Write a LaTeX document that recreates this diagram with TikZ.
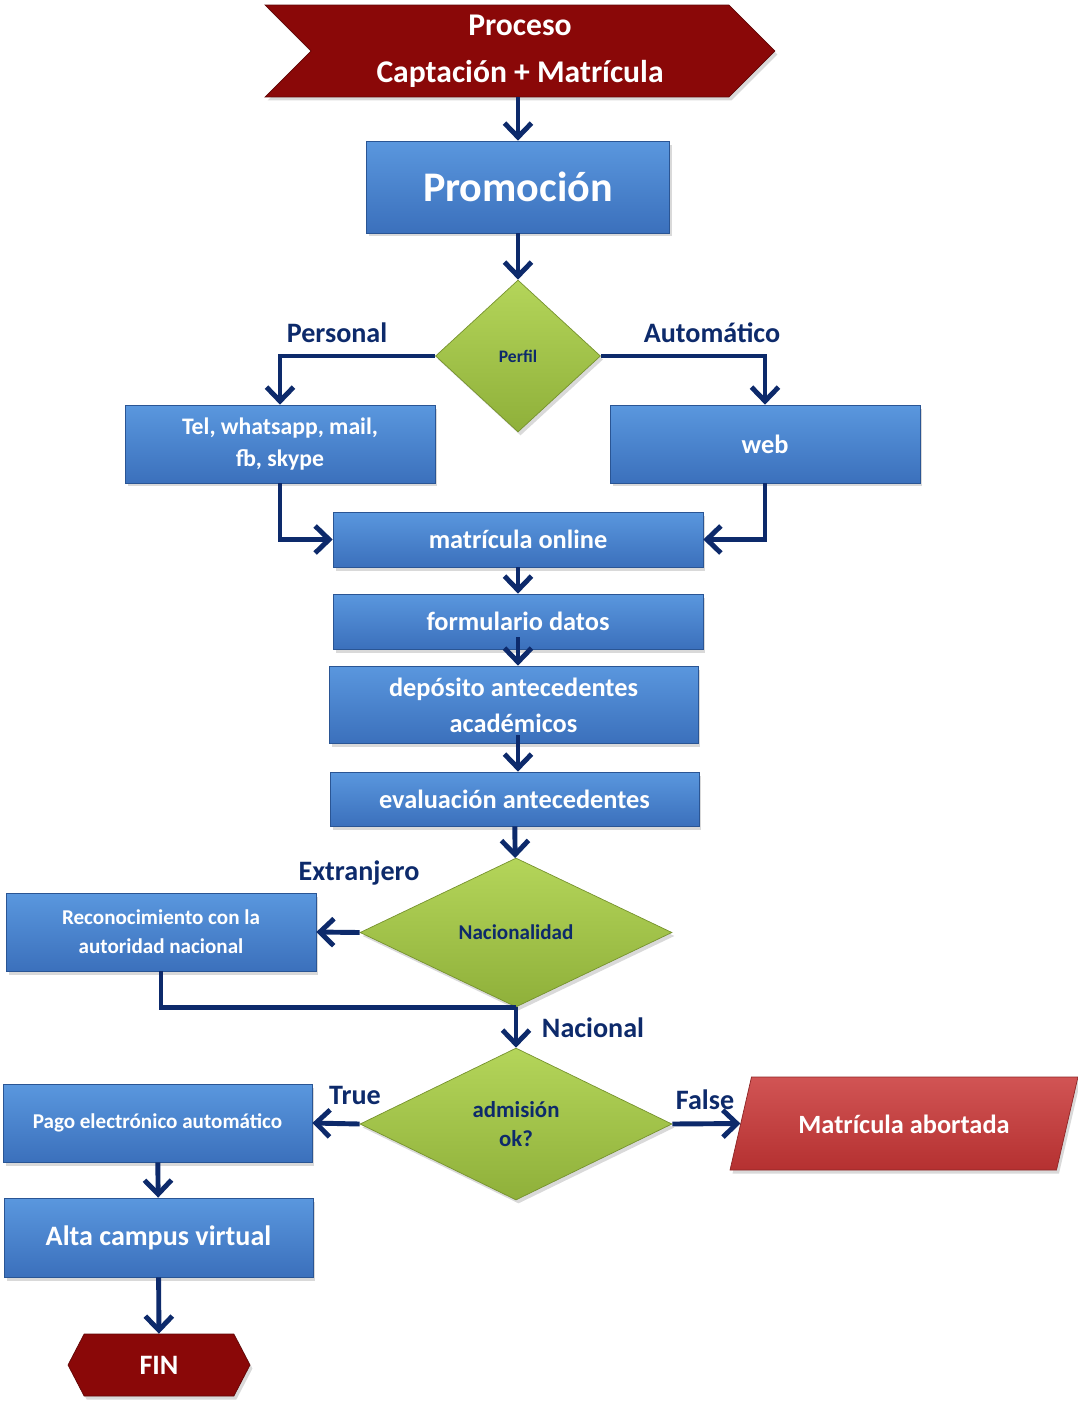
\documentclass[tikz,border=0pt]{standalone}
\usepackage{fontspec}
\setmainfont{Carlito}
\usetikzlibrary{shapes,arrows.meta,positioning,calc,shadows}

\definecolor{navy}{HTML}{0D2A6B}
\definecolor{boxblue}{HTML}{3B70BC}
\definecolor{boxtop}{HTML}{5A97DE}
\definecolor{boxedge}{HTML}{2A5594}
\definecolor{leaf}{HTML}{8FB03A}
\definecolor{leaftop}{HTML}{B4D55A}
\definecolor{leafedge}{HTML}{76922E}
\definecolor{wine}{HTML}{8A0808}
\definecolor{brick}{HTML}{C93636}

\begin{document}
\begin{tikzpicture}[x=0.02cm, y=-0.02cm, font=\bfseries,
    proc/.style={rectangle, draw=boxedge, top color=boxtop, bottom color=boxblue,
        text=white, align=center, inner sep=2pt,
        drop shadow={shadow xshift=0.5mm, shadow yshift=-0.7mm, opacity=0.3}},
    dec/.style={diamond, aspect=1, inner sep=0pt, draw=leafedge, top color=leaftop,
        bottom color=leaf, text=navy, align=center,
        drop shadow={shadow xshift=0.5mm, shadow yshift=-0.7mm, opacity=0.3}},
    flow/.style={draw=navy, line width=2.8pt, -{Straight Barb[length=2.8mm,width=5.4mm]}},
    tag/.style={text=navy, font=\bfseries\fontsize{16}{18}\selectfont}]

    \useasboundingbox (0,0) rectangle (1078,1403);

    % start
    \node [signal, signal from=west, signal to=east, fill=wine, draw=wine!70!black,
        minimum width=10.2cm, minimum height=1.84cm, text=white, align=center,
        font=\bfseries\fontsize{18}{27}\selectfont,
        drop shadow={shadow xshift=0.5mm, shadow yshift=-0.7mm, opacity=0.3}]
        (start) at (520,51) {Proceso\\Captación + Matrícula};
    \node [proc, minimum width=6.06cm, minimum height=1.84cm,
        font=\bfseries\fontsize{24}{28}\selectfont] (promo) at (518,187) {Promoción};

    % perfil
    \node [dec, minimum width=3.3cm, minimum height=3.04cm,
        font=\bfseries\fontsize{10}{12}\selectfont] (perfil) at (518,356) {Perfil};
    \node [proc, minimum width=6.2cm, minimum height=1.56cm,
        font=\bfseries\fontsize{13.5}{18}\selectfont] (tel) at (280,444) {Tel, whatsapp, mail,\\fb, skype};
    \node [proc, minimum width=6.2cm, minimum height=1.56cm,
        font=\bfseries\fontsize{15}{18}\selectfont] (web) at (765,444) {web};
    \node [tag] (personal) at (337,333) {Personal};
    \node [tag] (auto) at (712,333) {Automático};

    % pasos
    \node [proc, minimum width=7.4cm, minimum height=1.1cm,
        font=\bfseries\fontsize{15}{18}\selectfont] (matric) at (518,539.5) {matrícula online};
    \node [proc, minimum width=7.4cm, minimum height=1.1cm,
        font=\bfseries\fontsize{15}{18}\selectfont] (form) at (518,621.5) {formulario datos};
    \node [proc, minimum width=7.38cm, minimum height=1.54cm,
        font=\bfseries\fontsize{15}{20.4}\selectfont] (depo) at (513.5,704.5) {\\[-9pt]depósito antecedentes\\académicos};
    \node [proc, minimum width=7.38cm, minimum height=1.08cm,
        font=\bfseries\fontsize{15}{18}\selectfont] (eval) at (514.5,799) {evaluación antecedentes};

    % nacionalidad
    \node [dec, minimum width=6.24cm, minimum height=2.98cm,
        font=\bfseries\fontsize{12}{14}\selectfont] (nac) at (516,932.5) {Nacionalidad};
    \node [proc, minimum width=6.2cm, minimum height=1.56cm,
        font=\bfseries\fontsize{12}{16.4}\selectfont] (recon) at (161,932) {Reconocimiento con la\\autoridad nacional};
    \node [tag] (extra) at (359,873) {Extranjero};
    \node [tag] (nacional) at (593,1028) {Nacional};

    % admision
    \node [dec, minimum width=6.24cm, minimum height=3.04cm,
        font=\bfseries\fontsize{13}{17}\selectfont] (adm) at (516,1124) {admisión\\ok?};
    \node [proc, minimum width=6.18cm, minimum height=1.56cm,
        font=\bfseries\fontsize{12}{14}\selectfont] (pago) at (157.5,1123) {Pago electrónico automático};
    \node [trapezium, trapezium left angle=77, trapezium right angle=103, trapezium stretches body,
        draw=brick!70!black, top color=brick!85!white, bottom color=brick!90!black,
        text height=0.5cm, text depth=0.1cm, inner xsep=2pt, inner ysep=0.63cm,
        minimum width=6.96cm, text=white,
        font=\bfseries\fontsize{15}{18}\selectfont,
        drop shadow={shadow xshift=0.5mm, shadow yshift=-0.7mm, opacity=0.3}]
        (abort) at (904,1123.5) {Matrícula abortada};
    \node [tag] (true) at (355,1095) {True};
    \node [tag] (false) at (705,1100) {False};
    \node [proc, minimum width=6.18cm, minimum height=1.58cm,
        font=\bfseries\fontsize{16}{18}\selectfont] (alta) at (158.5,1237.5) {Alta campus virtual};
    \node [signal, signal to=west and east, signal pointer angle=125, fill=wine, draw=wine!70!black,
        minimum width=3.64cm, minimum height=1.24cm, text=white,
        font=\bfseries\fontsize{16}{18}\selectfont,
        drop shadow={shadow xshift=0.5mm, shadow yshift=-0.7mm, opacity=0.3}]
        (fin) at (159,1365) {FIN};

    % conectores
    \draw [flow] (promo.north |- start.south) -- (promo.north);
    \draw [flow] (promo) -- (perfil);
    \draw [flow] (perfil.west) -| (tel.north);
    \draw [flow] (perfil.east) -| (web.north);
    \draw [flow] (tel.south) |- (matric.west);
    \draw [flow] (web.south) |- (matric.east);
    \draw [flow] (matric) -- (form);
    \draw [flow] ([yshift=2.4mm]form.south) -- (form.south |- depo.north);
    \draw [flow] ([yshift=1.6mm]form.south |- depo.south) -- (form.south |- eval.north);
    \draw [flow] (eval) -- (nac);
    \draw [flow] (nac.west) -- (recon.east);
    \draw [draw=navy, line width=2.8pt] (recon.south) |- (nac.south);
    \draw [flow] (nac.south) -- (adm.north);
    \draw [flow] (adm.west) -- (pago.east);
    \draw [flow] (adm.east) -- (abort.west);
    \draw [flow] (pago) -- (alta);
    \draw [flow] (alta) -- (fin);
\end{tikzpicture}
\end{document}
